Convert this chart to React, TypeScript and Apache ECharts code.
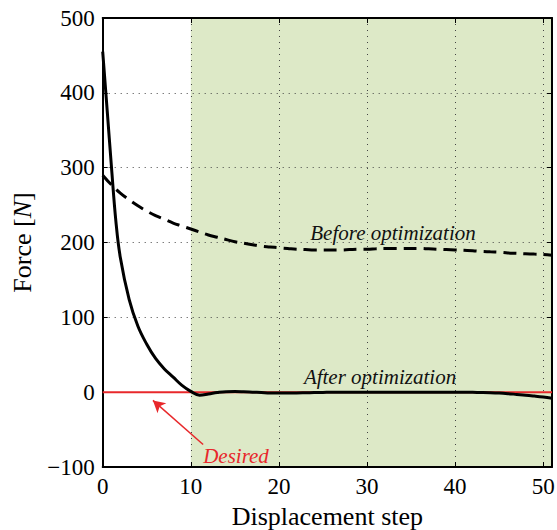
import React, { useEffect, useRef } from "react";
import * as echarts from "echarts";

const steps = [
  0, 1, 2, 3, 4, 5, 6, 7, 8, 9, 10, 11, 12, 13, 14, 15, 16, 17, 18, 19, 20, 21, 22, 23, 24, 25,
  26, 27, 28, 29, 30, 31, 32, 33, 34, 35, 36, 37, 38, 39, 40, 41, 42, 43, 44, 45, 46, 47, 48, 49, 50, 51,
];

const afterSteps = [
  0, 0.5, 1, 1.5, 2, 3, 4, 5, 6, 7, 8, 9, 10, 11, 12, 13, 14, 15, 16, 17, 18, 19, 20, 21, 22, 23, 24, 25,
  26, 27, 28, 29, 30, 31, 32, 33, 34, 35, 36, 37, 38, 39, 40, 41, 42, 43, 44, 45, 46, 47, 48, 49, 50, 51,
];

const afterOpt = [
  455, 378, 300, 228, 180, 124, 88, 64, 45, 31, 20, 9, 1, -4, -2.5, -0.5, 0.7, 0.8, 0.5, 0, -0.5, -1, -1, -1, -1, -0.8, -0.5, -0.3,
  0, 0, 0, 0, 0, 0, 0, 0, 0, 0, 0, 0, 0, 0, 0, 0, -0.2, -0.4, -0.7, -1.2, -2, -3, -4, -5.2, -6.5, -8,
];

const beforeOpt = [
  290, 277, 266, 257, 249, 242, 236, 231, 226, 222, 218, 214, 210, 207, 204, 201, 199, 197, 195, 194, 193, 192, 191, 190.5, 190, 190,
  190, 190, 190.5, 191, 191, 191.5, 192, 192, 192, 192, 192, 191.5, 191, 190.5, 190, 189.5, 189, 188, 187.5, 187, 186, 185.5, 185, 184.5, 184, 183,
];

const desiredX = [0, 51];
const desiredY = [0, 0];

const shadedRange = [10, 51];
const arrowFrom = [11.4, -70];
const arrowTo = [5.7, -11];

const xTicks = [0, 10, 20, 30, 40, 50];
const yTicks = [-100, 0, 100, 200, 300, 400, 500];

const labels = {
  before: "Before optimization",
  after: "After optimization",
  desired: "Desired",
  xName: "Displacement step",
};

const FONT = "Liberation Serif";
const RED = "#e8282b";
const GREEN = "#dde9c7";

export default function App() {
  const ref = useRef<HTMLDivElement>(null);

  useEffect(() => {
    if (!ref.current) return;
    const chart = echarts.init(ref.current, undefined, { renderer: "svg" });
    const xMin = xTicks[0];
    const xMax = steps[steps.length - 1];
    const yMin = yTicks[0];
    const yMax = yTicks[yTicks.length - 1];

    const fmtY = (v: number) => "{t|" + (v < 0 ? "\u2212" + Math.abs(v) : String(v)) + "}";
    const fmtX = (v: number) => (xTicks.indexOf(v) >= 0 ? "{t|" + v + "}" : "");
    const tickRich = { t: { fontFamily: FONT, fontSize: 23, color: "#000" } };

    const tickStyle = { show: true, inside: true, length: 5, lineStyle: { color: "#000", width: 1 } };
    const axisLineStyle = { show: true, onZero: false, lineStyle: { color: "#000", width: 2 } };
    const gridLine = { show: true, lineStyle: { color: "#444", width: 1, type: [1, 5] as any } };

    chart.setOption({
      animation: false,
      backgroundColor: "#fff",
      textStyle: { fontFamily: FONT },
      grid: { left: 102.7, right: 5, top: 18, bottom: 63, containLabel: false, outerBoundsMode: "none" },
      xAxis: [
        {
          type: "value",
          min: xMin,
          max: xMax,
          interval: 10,
          z: 3,
          axisLine: axisLineStyle,
          axisTick: tickStyle,
          splitLine: gridLine,
          axisLabel: { formatter: fmtX, fontFamily: FONT, fontSize: 23, color: "#000", margin: 8, rich: tickRich },
          name: "{n|" + labels.xName + "}",
          nameLocation: "middle",
          nameGap: 36,
          nameTextStyle: {
            fontFamily: FONT,
            fontSize: 26,
            color: "#000",
            rich: { n: { fontFamily: FONT, fontSize: 26, color: "#000" } },
          },
        },
        {
          type: "value",
          position: "top",
          min: xMin,
          max: xMax,
          interval: 10,
          z: 3,
          axisLine: axisLineStyle,
          axisTick: tickStyle,
          splitLine: { show: false },
          axisLabel: { show: false },
        },
      ],
      yAxis: [
        {
          type: "value",
          min: yMin,
          max: yMax,
          interval: 100,
          z: 3,
          axisLine: axisLineStyle,
          axisTick: tickStyle,
          splitLine: gridLine,
          axisLabel: { formatter: fmtY, fontFamily: FONT, fontSize: 23, color: "#000", margin: 8, rich: tickRich },
          name: "{n|Force [}{i|N}{n|]}",
          nameLocation: "middle",
          nameGap: 67,
          nameRotate: 90,
          nameTextStyle: {
            fontFamily: FONT,
            fontSize: 26,
            color: "#000",
            rich: {
              n: { fontFamily: FONT, fontSize: 26, color: "#000" },
              i: { fontFamily: FONT, fontSize: 26, fontStyle: "italic", color: "#000" },
            },
          },
        },
        {
          type: "value",
          position: "right",
          min: yMin,
          max: yMax,
          interval: 100,
          z: 3,
          axisLine: axisLineStyle,
          axisTick: tickStyle,
          splitLine: { show: false },
          axisLabel: { show: false },
        },
      ],
      series: [
        {
          type: "line",
          z: 1,
          data: [],
          silent: true,
          markArea: {
            silent: true,
            itemStyle: { color: GREEN },
            data: [[{ xAxis: shadedRange[0] }, { xAxis: shadedRange[1] }]],
          },
        },
        {
          type: "line",
          z: 5,
          data: desiredX.map((x, i) => [x, desiredY[i]]),
          showSymbol: false,
          lineStyle: { color: RED, width: 2 },
          markLine: {
            silent: true,
            symbol: ["none", "arrow"],
            symbolSize: [10, 12],
            label: { show: false },
            lineStyle: { color: RED, width: 1.5, type: "solid" },
            data: [[{ coord: arrowFrom }, { coord: arrowTo }]],
          },
        },
        {
          type: "line",
          z: 6,
          data: steps.map((x, i) => [x, beforeOpt[i]]),
          showSymbol: false,
          smooth: 0.4,
          lineStyle: { color: "#000", width: 3, type: [13, 7] as any, cap: "butt" },
        },
        {
          type: "line",
          z: 7,
          data: afterSteps.map((x, i) => [x, afterOpt[i]]),
          showSymbol: false,
          smooth: 0.4,
          lineStyle: { color: "#000", width: 3 },
        },
      ],
      graphic: [
        {
          type: "text",
          x: 393,
          y: 233,
          z: 10,
          style: { text: labels.before, font: `italic 21px "${FONT}"`, fill: "#111", align: "center", verticalAlign: "middle" },
        },
        {
          type: "text",
          x: 380,
          y: 377,
          z: 10,
          style: { text: labels.after, font: `italic 21px "${FONT}"`, fill: "#111", align: "center", verticalAlign: "middle" },
        },
        {
          type: "text",
          x: 236,
          y: 456,
          z: 10,
          style: { text: labels.desired, font: `italic 21px "${FONT}"`, fill: RED, align: "center", verticalAlign: "middle" },
        },
      ],
    });
    return () => chart.dispose();
  }, []);

  return <div ref={ref} style={{ position: "fixed", left: 0, top: 0, width: 557, height: 530 }} />;
}
